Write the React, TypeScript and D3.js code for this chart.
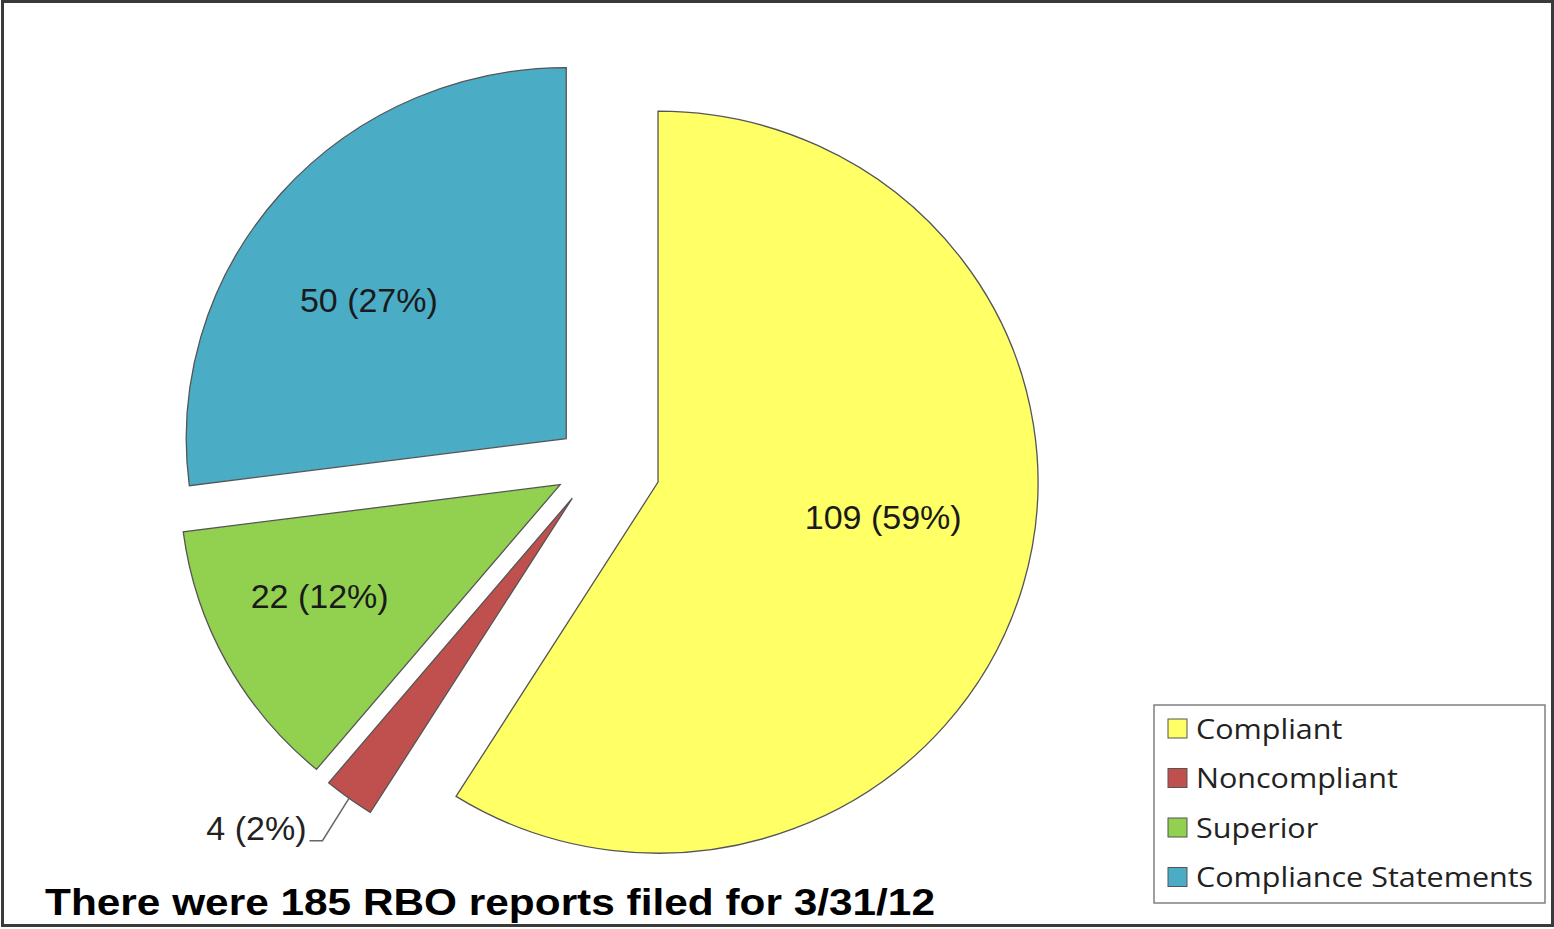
import React from "react";
import * as d3 from "d3";

const categories = ["Compliant", "Noncompliant", "Superior", "Compliance Statements"];
const counts = [109, 4, 22, 50];
const colors = ["#FFFF66", "#C0504D", "#92D050", "#4BACC6"];
const title = "There were 185 RBO reports filed for 3/31/12";

// styling / layout (not data)
const explode = [62, 41, 41, 40];
const labelFrac = [0.6, 1, 0.7, 0.64];
const labelShiftDeg = [-7, 0, 3.4, -5.6];
const outsideLabel = [false, true, false, false];

const W = 1554;
const H = 929;
const cx = 597;
const cy = 465;
const R = 371;
const sx = 380 / 371;

export default function App() {
  const total = d3.sum(counts);
  const pie = d3
    .pie<number>()
    .sort(null)
    .value((d) => d)
    .startAngle(0)
    .endAngle(2 * Math.PI);
  const arcs = pie(counts);
  const arcGen = d3.arc<d3.PieArcDatum<number>>().innerRadius(0).outerRadius(R);

  const polar = (ox: number, oy: number, a: number, r: number) => [
    ox + sx * r * Math.sin(a),
    oy - r * Math.cos(a),
  ];

  const rad = (deg: number) => (deg * Math.PI) / 180;

  return (
    <svg
      width={W}
      height={H}
      style={{ position: "absolute", left: 0, top: 0, background: "#fff" }}
    >
      <rect x={0} y={0} width={W} height={H} fill="#fff" />
      {arcs.map((a, i) => {
        const mid = (a.startAngle + a.endAngle) / 2;
        const [ax, ay] = polar(cx, cy, mid, explode[i]);
        return (
          <g key={"s" + i} transform={`translate(${ax},${ay}) scale(${sx},1)`}>
            <path
              d={arcGen(a) || ""}
              fill={colors[i]}
              stroke="#555"
              strokeWidth={1.3}
              vectorEffect="non-scaling-stroke"
              strokeLinejoin="miter"
            />
          </g>
        );
      })}
      {arcs.map((a, i) => {
        const mid = (a.startAngle + a.endAngle) / 2;
        const [ax, ay] = polar(cx, cy, mid, explode[i]);
        const pct = Math.round((a.data / total) * 100);
        const txt = `${a.data} (${pct}%)`;
        if (outsideLabel[i]) {
          const [px, py] = polar(ax, ay, mid, R);
          const la = rad(212);
          const ex = px + 50 * Math.sin(la);
          const ey = py - 50 * Math.cos(la);
          return (
            <g key={"l" + i}>
              <polyline
                points={`${px},${py} ${ex},${ey} ${ex - 13},${ey}`}
                fill="none"
                stroke="#666"
                strokeWidth={1.5}
              />
              <text
                x={ex - 16}
                y={ey}
                dy="-0.02em"
                textAnchor="end"
                fontFamily="'Liberation Sans', Arial, sans-serif"
                fontSize={34}
                fill="#222"
              >
                {txt}
              </text>
            </g>
          );
        }
        const la = mid + rad(labelShiftDeg[i]);
        const [lx, ly] = polar(ax, ay, la, R * labelFrac[i]);
        return (
          <text
            key={"l" + i}
            x={lx}
            y={ly}
            dy="0.35em"
            textAnchor="middle"
            fontFamily="'Liberation Sans', Arial, sans-serif"
            fontSize={34}
            fill="#1a1a1a"
          >
            {txt}
          </text>
        );
      })}

      {/* legend */}
      <rect x={1154} y={705} width={391} height={198} fill="#fff" stroke="#808080" strokeWidth={1.5} />
      {categories.map((c, i) => {
        const y = 729 + i * 49.5;
        return (
          <g key={"g" + i}>
            <rect x={1168} y={y - 10} width={19} height={19} fill={colors[i]} stroke="#555" strokeWidth={1} />
            <text
              transform={`translate(1196,${y}) scale(1.09,1)`}
              dy="0.35em"
              fontFamily="'Open Sans', 'Noto Sans', sans-serif"
              fontSize={28}
              fill="#222"
            >
              {c}
            </text>
          </g>
        );
      })}

      <text
        x={45}
        y={915}
        fontFamily="'Liberation Sans', Arial, sans-serif"
        fontWeight="bold"
        fontSize={37}
        textLength={890}
        lengthAdjust="spacingAndGlyphs"
        fill="#000"
      >
        {title}
      </text>

      <rect x={2.5} y={1.5} width={1550} height={924} fill="none" stroke="#3a3a3a" strokeWidth={3} />
    </svg>
  );
}
